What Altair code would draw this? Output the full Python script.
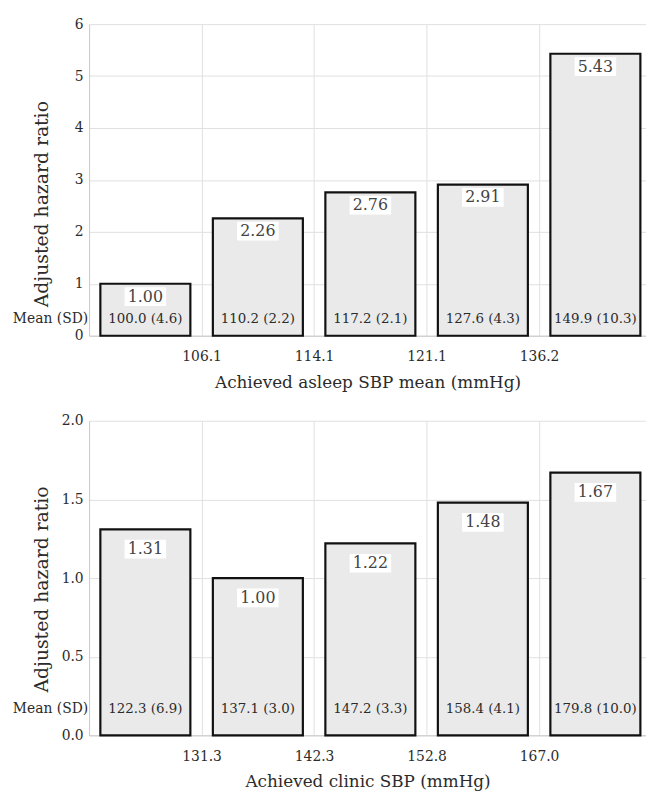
import altair as alt
import pandas as pd

# ---- data ----
asleep_edges = ["106.1", "114.1", "121.1", "136.2"]
asleep_hr = [1.00, 2.26, 2.76, 2.91, 5.43]
asleep_mean = ["100.0 (4.6)", "110.2 (2.2)", "117.2 (2.1)", "127.6 (4.3)", "149.9 (10.3)"]

clinic_edges = ["131.3", "142.3", "152.8", "167.0"]
clinic_hr = [1.31, 1.00, 1.22, 1.48, 1.67]
clinic_mean = ["122.3 (6.9)", "137.1 (3.0)", "147.2 (3.3)", "158.4 (4.1)", "179.8 (10.0)"]

FONT = "DejaVu Serif"
TXT = "#2b2b2b"
XMAX = 4.95
W = 563


def panel(hr, mean, edges, xtitle, ymax, ystep, yfmt, H, mean_off, lab_off, ty_shift):
    n = len(hr)
    df = pd.DataFrame({
        "i": list(range(n)),
        "x0": [i + 0.1 for i in range(n)],
        "x1": [i + 0.9 for i in range(n)],
        "xc": [i + 0.5 for i in range(n)],
        "hr": hr,
        "lab": [f"{v:.2f}" for v in hr],
        "mean": mean,
    })
    lab_expr = "[" + ",".join(f"'{e}'" for e in edges) + "][datum.value - 1]"
    yvals = []
    v = 0.0
    while v <= ymax + 1e-9:
        yvals.append(round(v, 2))
        v += ystep

    xscale = alt.Scale(domain=[0, XMAX], nice=False, zero=False)
    yscale = alt.Scale(domain=[0, ymax], nice=False)

    xaxis = alt.Axis(values=list(range(1, n)), labelExpr=lab_expr, title=xtitle,
                     grid=True, ticks=False, labelPadding=14, titlePadding=11,
                     titleFontSize=17)
    yaxis = alt.Axis(values=yvals, format=yfmt, title="Adjusted hazard ratio",
                     grid=True, ticks=False, labelPadding=6,
                     titleX=-48, titleY=H / 2 + ty_shift, titleBaseline="middle",
                     titleAlign="center", titleAngle=270, titleFontSize=19)

    base = alt.Chart(df)
    bars = base.mark_bar(fill="#eaeaea", stroke="#111111", strokeWidth=2.2).encode(
        x=alt.X("x0:Q", scale=xscale, axis=xaxis),
        x2="x1:Q",
        y=alt.Y("hr:Q", scale=yscale, axis=yaxis),
        y2=alt.datum(0),
    )
    box = base.mark_point(
        shape="M-1,-0.45L1,-0.45L1,0.45L-1,0.45Z", filled=True, fill="white",
        strokeWidth=0, opacity=1, size=1764, yOffset=lab_off,
    ).encode(x="xc:Q", y="hr:Q")
    vals = base.mark_text(font=FONT, fontSize=16, color="#444444", baseline="middle",
                          dy=lab_off).encode(x="xc:Q", y="hr:Q", text="lab:N")
    means = base.mark_text(font=FONT, fontSize=13.5, color=TXT, baseline="middle").encode(
        x="xc:Q", y=alt.value(H - mean_off), text="mean:N")
    meanlab = alt.Chart(pd.DataFrame({"t": ["Mean (SD)"]})).mark_text(
        font=FONT, fontSize=14, color=TXT, align="right", baseline="middle"
    ).encode(x=alt.value(-1), y=alt.value(H - mean_off), text="t:N")

    return alt.layer(bars, box, vals, means, meanlab).properties(width=W, height=H)


top = panel(asleep_hr, asleep_mean, asleep_edges, "Achieved asleep SBP mean (mmHg)",
            6, 1, "d", 315, 17, 13, 24)
bottom = panel(clinic_hr, clinic_mean, clinic_edges, "Achieved clinic SBP (mmHg)",
               2.0, 0.5, ".1f", 318, 27, 20, 11)

chart = alt.vconcat(top, bottom, spacing=24).properties(
    padding={"left": 4, "top": 5, "right": 0, "bottom": 0}
).configure(font=FONT).configure_view(stroke=None).configure_axis(
    labelFont=FONT, titleFont=FONT, labelFontSize=14,
    labelColor=TXT, titleColor=TXT, titleFontWeight="normal",
    gridColor="#e0e0e0", gridWidth=1, domainColor="#c8c8c8", domainWidth=1,
)

chart.save("out.html", embed_options={"renderer": "svg", "actions": False})
